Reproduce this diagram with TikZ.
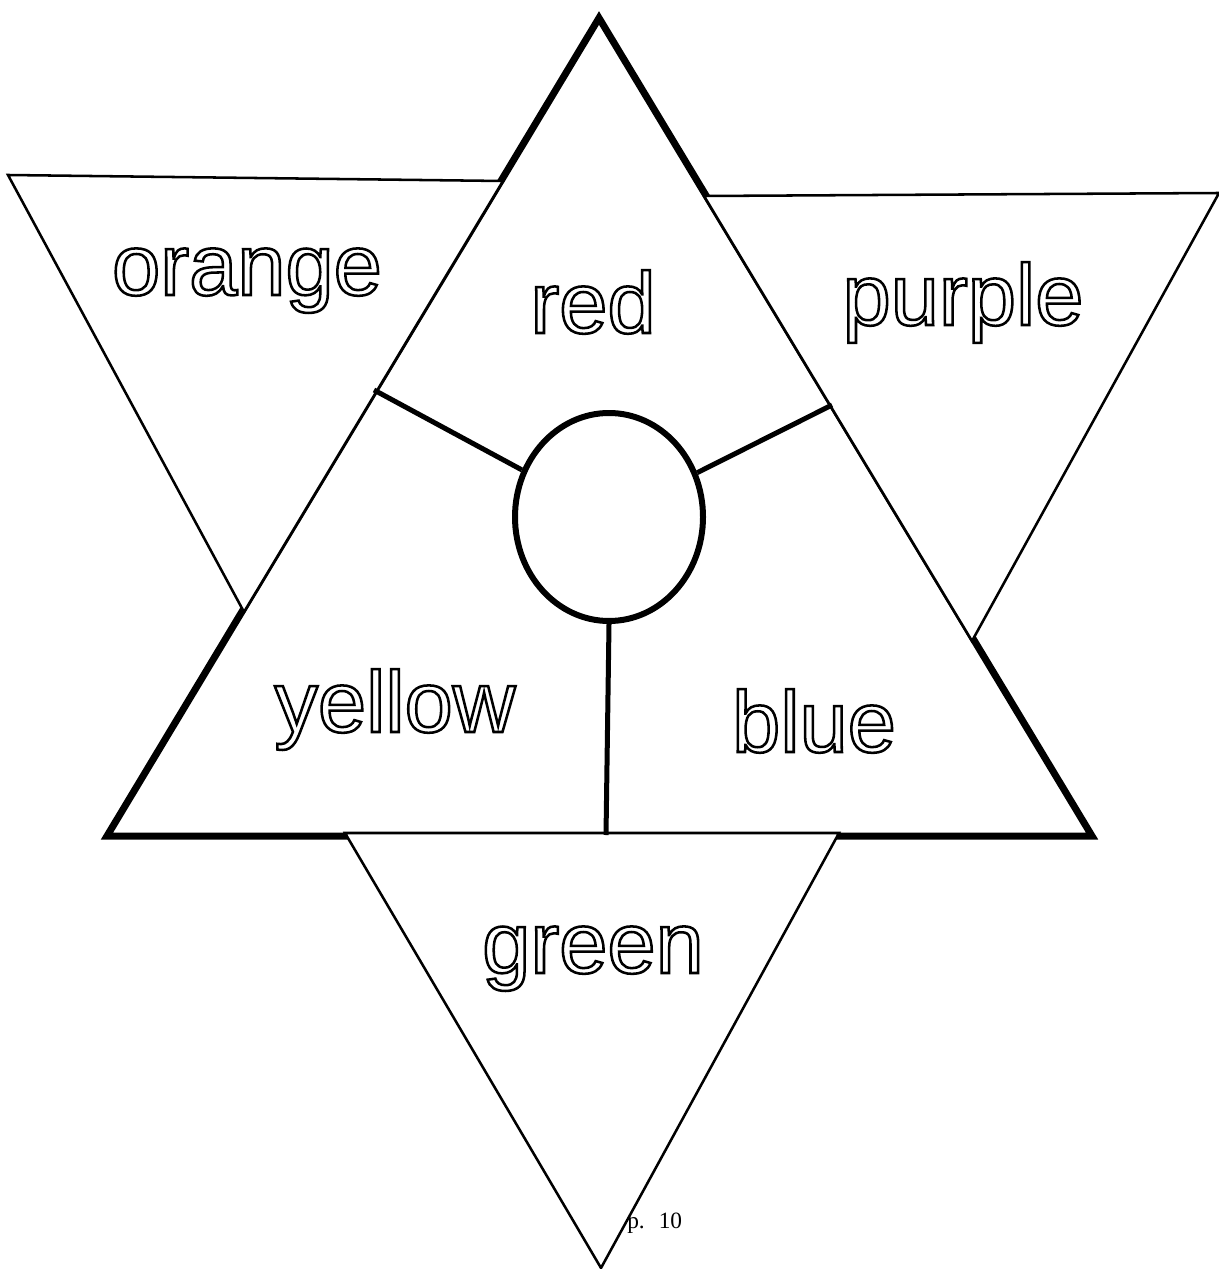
\documentclass[tikz,border=0pt]{standalone}
\usepackage{fontspec}
\newfontfamily\lblfont{Liberation Sans}
\newfontfamily\pgfont{Liberation Serif}
\usetikzlibrary{shapes.geometric,calc}
\newcommand{\strokedtext}[1]{\special{pdf:literal direct 2 Tr 1.9 w 0 G}#1\special{pdf:literal direct 0 Tr}}
\begin{document}
\begin{tikzpicture}[x=0.75pt,y=-0.75pt,
  bigedge/.style={line width=5.25pt, line join=miter, line cap=butt},
  flap/.style={fill=white, draw=black, line width=1.9pt, line join=miter},
  spoke/.style={line width=3.75pt},
  hubstyle/.style={ellipse, draw, line width=4.5pt, minimum width=141pt, minimum height=156pt, inner sep=0pt},
  lbl/.style={font={\lblfont\fontsize{65pt}{65pt}\selectfont}, inner sep=0pt, anchor=base, text=white},
]
\fill[white] (0,0) rectangle (1219,1269);
\useasboundingbox (0,0) rectangle (1219,1269);

% big triangle
\coordinate (A) at (599,18);
\coordinate (B) at (107,836);
\coordinate (C) at (1092,836);
\draw[bigedge] (A) -- (B) -- (C) -- cycle;

% flaps
\coordinate (O1) at (8,175);
\coordinate (O2) at (503,181);
\coordinate (O3) at (244,612);
\draw[flap] (O1) -- (O2) -- (O3) -- cycle;

\coordinate (P1) at (704,196);
\coordinate (P2) at (1219,193);
\coordinate (P3) at (972,641);
\draw[flap] (P1) -- (P2) -- (P3) -- cycle;

\coordinate (G1) at (345,833);
\coordinate (G2) at (839,833);
\coordinate (G3) at (601,1268);
\draw[flap] (G1) -- (G2) -- (G3) -- cycle;

% hub and spokes
\node[hubstyle] (hub) at (609,517) {};
\coordinate (L) at (374,390);
\coordinate (R) at (832,405);
\coordinate (V) at (606,835);
\draw[spoke] (L) -- (hub);
\draw[spoke] (R) -- (hub);
\draw[spoke] (hub.south) -- (V);

% labels
\node[lbl] (orange) at (247,295) {\strokedtext{orange}};
\node[lbl] (red) at (593,333) {\strokedtext{red}};
\node[lbl] (purple) at (963,325) {\strokedtext{purple}};
\node[lbl] (yellow) at (395,732) {\strokedtext{yellow}};
\node[lbl] (blue) at (814,752) {\strokedtext{blue}};
\node[lbl] (green) at (593,973) {\strokedtext{green}};

\node[font={\pgfont\fontsize{17.5pt}{17.5pt}\selectfont}, anchor=base west, inner sep=0pt] (pg) at (627,1228) {p.\hspace{0.6em}10};
\end{tikzpicture}
\end{document}
